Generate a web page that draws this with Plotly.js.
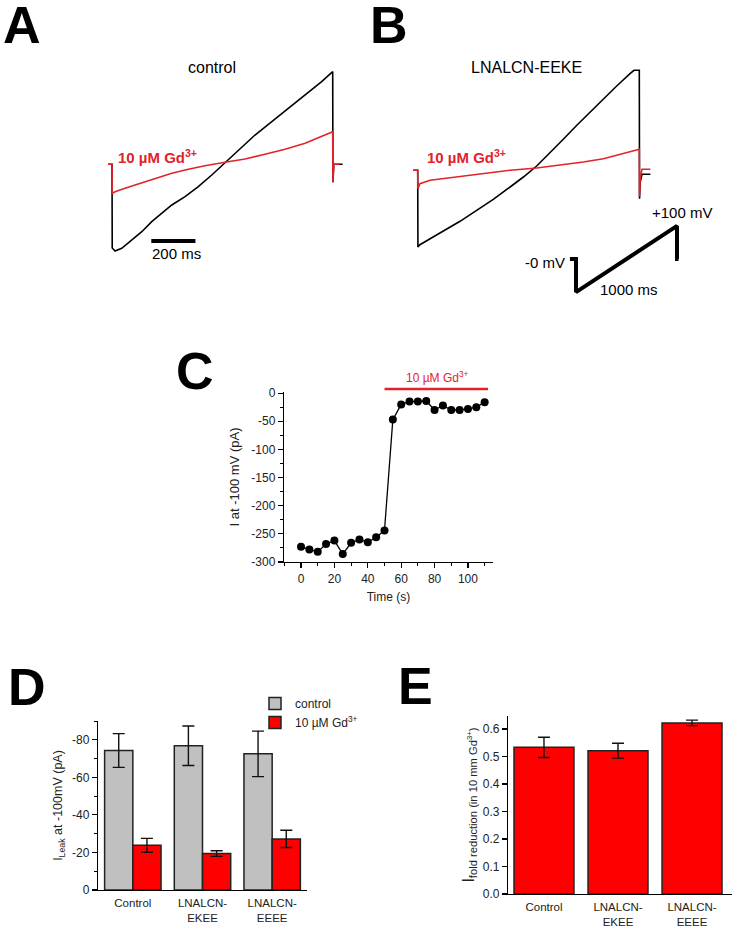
<!DOCTYPE html>
<html>
<head>
<meta charset="utf-8">
<script src="https://cdn.plot.ly/plotly-3.0.1.min.js"></script>
<style>html,body{margin:0;padding:0;background:#fff;}#chart{width:732px;height:926px;}</style>
</head>
<body>
<div id="chart"></div>
<script>
// ---------- DATA ----------
// Panel A: control cell, current traces (time in ms, current in arbitrary pA units)
const tA_control = [-18, 0, 1, 14, 44, 89, 135, 180, 225, 271, 331, 391, 452, 512, 572, 648, 724, 799, 875, 950, 1000, 1001, 1005, 1045];
const iA_control = [0, 0, -837, -867, -840, -757, -674, -574, -490, -407, -324, -224, -107, 16, 143, 293, 426, 560, 693, 826, 926, -180, 0, 0];
const tA_gd = [-18, 0, 1, 14, 59, 119, 195, 271, 346, 421, 512, 603, 693, 784, 875, 950, 1000, 1001, 1005, 1030];
const iA_gd = [0, 0, -290, -274, -240, -197, -140, -90, -50, -14, 20, 53, 100, 150, 210, 276, 326, -180, 0, 0];
// Panel B: LNALCN-EEKE
const tB_control = [-20, 0, 1, 10, 56, 116, 191, 266, 341, 417, 477, 537, 598, 657, 718, 778, 838, 898, 958, 976, 1000, 1001, 1004, 1012, 1050];
const iB_control = [0, 0, -767, -744, -684, -610, -510, -400, -290, -167, -67, 43, 176, 310, 450, 583, 716, 843, 966, 1000, 1000, -284, -120, -40, -40];
const tB_gd = [-20, 0, 1, 10, 56, 116, 191, 266, 341, 417, 537, 642, 747, 838, 928, 1000, 1001, 1004, 1012, 1050];
const iB_gd = [0, 0, -184, -134, -100, -84, -60, -47, -20, 0, 23, 50, 83, 116, 166, 210, -260, -80, 10, 10];
// Voltage protocol (ms, mV)
const protoT = [-60, 0, 0, 1000, 1000, 1015];
const protoV = [0, 0, -100, 100, 0, 0];
const scaleBarStartMs = 178, scaleBarMs = 200, scaleBarLevel = -767;
// Panel C: time course
const timeS = [0, 5, 10, 15, 20, 25, 30, 35, 40, 45, 50, 55, 60, 65, 70, 75, 80, 85, 90, 95, 100, 105, 110];
const iAt100 = [-273, -278, -282, -268, -262, -286, -266, -260, -265, -256, -244, -47, -20, -15, -15, -14, -30, -22, -30, -30, -28, -25, -16];
const gdStart = 50, gdEnd = 112;
const cYTicks = [0, -50, -100, -150, -200, -250, -300];
const cYTickText = ['0', '-50', '-100', '-150', '-200', '-250', '-300'];
// Panel D
const groups = ['Control', 'LNALCN-EKEE', 'LNALCN-EEEE'];
const groupLabels = ['Control', 'LNALCN-<br>EKEE', 'LNALCN-<br>EEEE'];
const leakControl = [-74.3, -76.8, -72.5];
const leakControlErr = [9.0, 10.5, 12.1];
const leakGd = [-23.8, -19.4, -27.2];
const leakGdErr = [3.7, 1.5, 4.6];
const dYTicks = [0, -20, -40, -60, -80];
const dYTickText = ['0', '-20', '-40', '-60', '-80'];
// Panel E
const foldReduction = [0.533, 0.521, 0.622];
const foldErr = [0.037, 0.027, 0.010];

// ---------- LAYOUT HELPERS ----------
const W = 732, H = 926;
const px = v => v / W;
const py = v => 1 - v / H;
const FONT = 'Arial, "Liberation Sans", sans-serif';
const RED = '#e3222a';
const BARRED = '#ff0000';

const hidden = (dom, range, anchor) => ({domain: dom, range: range, visible: false, fixedrange: true, anchor: anchor});

const traces = [
  // Panel A
  {x: tA_control, y: iA_control, xaxis: 'x', yaxis: 'y', type: 'scatter', mode: 'lines', line: {color: '#000', width: 1.6}, showlegend: false},
  {x: tA_gd, y: iA_gd, xaxis: 'x', yaxis: 'y', type: 'scatter', mode: 'lines', line: {color: RED, width: 1.6}, showlegend: false},
  {x: [scaleBarStartMs, scaleBarStartMs + scaleBarMs], y: [scaleBarLevel, scaleBarLevel], xaxis: 'x', yaxis: 'y', type: 'scatter', mode: 'lines', line: {color: '#000', width: 4}, showlegend: false},
  // Panel B
  {x: tB_control, y: iB_control, xaxis: 'x2', yaxis: 'y2', type: 'scatter', mode: 'lines', line: {color: '#000', width: 1.6}, showlegend: false},
  {x: tB_gd, y: iB_gd, xaxis: 'x2', yaxis: 'y2', type: 'scatter', mode: 'lines', line: {color: RED, width: 1.6}, showlegend: false},
  {x: protoT, y: protoV, xaxis: 'x6', yaxis: 'y6', type: 'scatter', mode: 'lines', line: {color: '#000', width: 4}, showlegend: false},
  // Panel C
  {x: timeS, y: iAt100, xaxis: 'x3', yaxis: 'y3', type: 'scatter', mode: 'lines+markers',
   line: {color: '#000', width: 1.3}, marker: {color: '#000', size: 8}, showlegend: false},
  {x: [gdStart, gdEnd], y: [0, 0], xaxis: 'x3', yaxis: 'y7', type: 'scatter', mode: 'lines', line: {color: RED, width: 2.5}, showlegend: false},
  // Panel D
  {x: groups, y: leakControl, xaxis: 'x4', yaxis: 'y4', type: 'bar', name: 'control',
   marker: {color: '#c0c0c0', line: {color: '#222', width: 1.5}},
   error_y: {type: 'data', array: leakControlErr, color: '#111', thickness: 1.4, width: 6}},
  {x: groups, y: leakGd, xaxis: 'x4', yaxis: 'y4', type: 'bar', name: '10 \u00b5M Gd<sup>3+</sup>',
   marker: {color: BARRED, line: {color: '#222', width: 1.5}},
   error_y: {type: 'data', array: leakGdErr, color: '#111', thickness: 1.4, width: 6}},
  // Panel E
  {x: groups, y: foldReduction, xaxis: 'x5', yaxis: 'y5', type: 'bar', showlegend: false,
   marker: {color: BARRED, line: {color: '#222', width: 1.5}},
   error_y: {type: 'data', array: foldErr, color: '#111', thickness: 1.4, width: 6}}
];

const tickFont = {family: FONT, size: 12, color: '#222'};
const catFont = {family: FONT, size: 11.5, color: '#222'};
const axLine = {showline: true, linecolor: '#000', linewidth: 1.2, ticks: 'outside', tickcolor: '#000', ticklen: 5, tickwidth: 1.2,
  showgrid: false, zeroline: false, tickfont: tickFont, fixedrange: true};

const layout = {
  width: W, height: H,
  margin: {l: 0, r: 0, t: 0, b: 0},
  paper_bgcolor: '#fff', plot_bgcolor: 'rgba(0,0,0,0)',
  font: {family: FONT, color: '#000'},
  barmode: 'group', bargap: 0.19, bargroupgap: 0,
  showlegend: true,
  legend: {x: px(255), y: py(689), xanchor: 'left', yanchor: 'top', font: {family: FONT, size: 12, color: '#222'},
    bgcolor: 'rgba(0,0,0,0)', tracegroupgap: 0, itemwidth: 30},
  xaxis: hidden([px(100), px(350)], [-54.4, 1078.4], 'y'),
  yaxis: hidden([py(260), py(60)], [-957, 1043], 'x'),
  xaxis2: hidden([px(400), px(700)], [-79.9, 1273.9], 'y2'),
  yaxis2: hidden([py(260), py(55)], [-897, 1153], 'x2'),
  xaxis6: hidden([px(560), px(700)], [-158.4, 1227.7], 'y6'),
  yaxis6: hidden([py(300), py(215)], [-124, 133], 'x6'),
  yaxis7: hidden([py(394), py(384)], [-1, 1], 'x3'),
  xaxis3: Object.assign({}, axLine, {domain: [px(284), px(493)], range: [-10.2, 115], anchor: 'y3',
    tickmode: 'linear', tick0: 0, dtick: 20,
    minor: {tickmode: 'linear', tick0: 0, dtick: 10, ticks: 'outside', ticklen: 3, tickcolor: '#000', tickwidth: 1},
    title: {text: 'Time (s)', font: {family: FONT, size: 12, color: '#222'}, standoff: 8}}),
  yaxis3: Object.assign({}, axLine, {domain: [py(562), py(392)], range: [-300, 2], anchor: 'x3',
    tickmode: 'array', tickvals: cYTicks, ticktext: cYTickText,
    minor: {tickmode: 'linear', tick0: 0, dtick: 25, ticks: 'outside', ticklen: 3, tickcolor: '#000', tickwidth: 1},
    title: {text: 'I at -100 mV (pA)', font: {family: FONT, size: 13, color: '#222'}, standoff: 8}}),
  xaxis4: Object.assign({}, axLine, {domain: [px(98), px(307)], range: [-0.5, 2.5], anchor: 'y4', type: 'category',
    ticks: '', tickmode: 'array', tickvals: groups, ticktext: groupLabels, ticklabelstandoff: 2, tickfont: catFont}),
  yaxis4: Object.assign({}, axLine, {domain: [py(890), py(721)], range: [0, -90], anchor: 'x4',
    tickmode: 'array', tickvals: dYTicks, ticktext: dYTickText,
    minor: {tickmode: 'linear', tick0: 0, dtick: 10, ticks: 'outside', ticklen: 3, tickcolor: '#000', tickwidth: 1},
    title: {text: 'I<sub>Leak</sub> at -100mV (pA)', font: {family: FONT, size: 12.5, color: '#222'}, standoff: 6}}),
  xaxis5: Object.assign({}, axLine, {domain: [px(508), 1], range: [-0.486, 2.54], anchor: 'y5', type: 'category',
    ticks: '', tickmode: 'array', tickvals: groups, ticktext: groupLabels, ticklabelstandoff: 2, tickfont: catFont}),
  yaxis5: Object.assign({}, axLine, {domain: [py(894), py(716)], range: [0, 0.647], anchor: 'x5',
    tickmode: 'linear', tick0: 0, dtick: 0.1, tickformat: '.1f',
    title: {text: 'I<sub>fold reduction (in 10 mm Gd<sup>3+</sup>)</sub>', font: {family: FONT, size: 16, color: '#222'}, standoff: 4}}),
  annotations: []
};

function ann(text, x, y, opts) {
  return Object.assign({text: text, x: px(x), y: py(y), xref: 'paper', yref: 'paper', showarrow: false,
    xanchor: 'center', yanchor: 'middle', font: {family: FONT, size: 15, color: '#000'}}, opts || {});
}
const big = {family: FONT, size: 52, color: '#000', weight: 'bold'};
layout.annotations.push(
  ann('<b>A</b>', 22, 25, {font: big}),
  ann('<b>B</b>', 389, 25, {font: big}),
  ann('<b>C</b>', 195, 371, {font: big}),
  ann('<b>D</b>', 27, 687, {font: big}),
  ann('<b>E</b>', 415, 686, {font: big}),
  ann('control', 212, 68, {font: {family: FONT, size: 16, color: '#000'}}),
  ann('LNALCN-EEKE', 526, 67, {font: {family: FONT, size: 16, color: '#000'}}),
  ann('<b>10 \u00b5M Gd<sup>3+</sup></b>', 116, 157, {xanchor: 'left', font: {family: FONT, size: 15, color: RED}}),
  ann('<b>10 \u00b5M Gd<sup>3+</sup></b>', 425, 156, {xanchor: 'left', font: {family: FONT, size: 15, color: RED}}),
  ann('200 ms', 176, 254),
  ann('+100 mV', 650, 213, {xanchor: 'left'}),
  ann('-0 mV', 567, 262, {xanchor: 'right'}),
  ann('1000 ms', 598, 290, {xanchor: 'left'}),
  ann('10 \u00b5M Gd<sup>3+</sup>', 437, 377, {font: {family: FONT, size: 12, color: RED}})
);

Plotly.newPlot('chart', traces, layout, {displayModeBar: false, staticPlot: true});
</script>
</body>
</html>
